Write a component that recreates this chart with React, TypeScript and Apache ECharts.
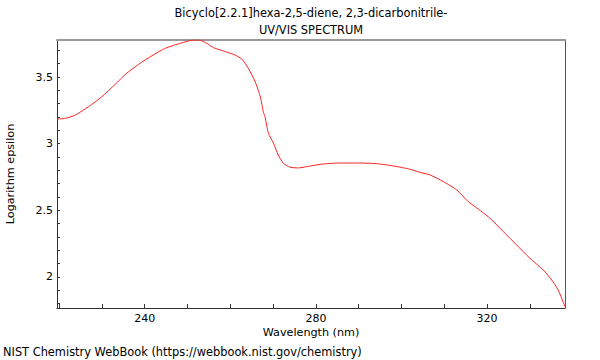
import React, { useEffect, useRef } from "react";
import * as echarts from "echarts";

const titleLines = ["Bicyclo[2.2.1]hexa-2,5-diene, 2,3-dicarbonitrile-", "UV/VIS SPECTRUM"];
const xName = "Wavelength (nm)";
const yName = "Logarithm epsilon";
const footer = "NIST Chemistry WebBook (https://webbook.nist.gov/chemistry)";

const wavelengths = [
  219.5, 221.4, 223.8, 226.9, 230.0, 233.1, 235.5, 238.6, 241.7, 244.8, 249.1, 251.4, 253.0,
  254.5, 256.1, 258.4, 260.7, 262.7, 264.2, 265.8, 267.0, 267.7, 268.1, 268.9, 270.1, 271.2,
  272.4, 274.0, 275.9, 278.7, 281.8, 285.7, 289.6, 294.2, 298.1, 302.0, 304.3, 306.7, 309.8,
  312.9, 315.6, 317.2, 320.7, 323.8, 326.9, 330.0, 333.1, 335.1, 336.6, 338.2,
];
const logEpsilon = [
  3.185, 3.19, 3.215, 3.278, 3.353, 3.446, 3.521, 3.596, 3.66, 3.716, 3.761, 3.778, 3.776,
  3.753, 3.72, 3.695, 3.671, 3.635, 3.566, 3.465, 3.353, 3.24, 3.203, 3.078, 3.003, 2.915,
  2.853, 2.823, 2.818, 2.833, 2.848, 2.855, 2.855, 2.85, 2.833, 2.808, 2.785, 2.765, 2.715,
  2.653, 2.565, 2.527, 2.44, 2.34, 2.24, 2.14, 2.053, 1.977, 1.902, 1.777,
];
const xLabels = [240, 280, 320];
const xTicks = [220, 230, 240, 250, 260, 270, 280, 290, 300, 310, 320, 330];
const yLabels = [2, 2.5, 3, 3.5];
const yTicks = [1.8, 1.9, 2, 2.1, 2.2, 2.3, 2.4, 2.5, 2.6, 2.7, 2.8, 2.9, 3, 3.1, 3.2, 3.3, 3.4, 3.5, 3.6, 3.7];

const FONT = "DejaVu Sans";
const FS = 11;
const FS_TITLE = 11.4;
const FS_NAME = 11.2;

export default function App() {
  const ref = useRef<HTMLDivElement>(null);
  useEffect(() => {
    if (!ref.current) return;
    const chart = echarts.init(ref.current, null, { renderer: "svg" });
    const data = wavelengths.map((w, i) => [w, logEpsilon[i]]);
    chart.setOption({
      animation: false,
      backgroundColor: "#fff",
      textStyle: { fontFamily: FONT },
      grid: { left: 57, right: 35, top: 40, bottom: 52, show: false },
      xAxis: [
        {
          type: "value",
          min: 219.5,
          max: 338.2,
          axisLine: { show: true, lineStyle: { color: "#333", width: 1 } },
          axisTick: { show: true, inside: true, length: 4, customValues: xTicks, lineStyle: { color: "#333" } },
          axisLabel: { show: true, customValues: xLabels, margin: 5, color: "#000", fontSize: FS, fontFamily: FONT },
          splitLine: { show: false },
        },
        {
          type: "value",
          position: "top",
          min: 219.5,
          max: 338.2,
          axisLine: { show: true, lineStyle: { color: "#999", width: 2 } },
          axisTick: { show: false },
          axisLabel: { show: false },
          splitLine: { show: false },
        },
      ],
      yAxis: [
        {
          type: "value",
          min: 1.767,
          max: 3.778,
          axisLine: { show: true, lineStyle: { color: "#333", width: 1 } },
          axisTick: { show: true, inside: true, length: 3, customValues: yTicks, lineStyle: { color: "#333" } },
          axisLabel: { show: true, customValues: yLabels, margin: 4, color: "#000", fontSize: FS, fontFamily: FONT },
          splitLine: { show: false },
        },
        {
          type: "value",
          position: "right",
          min: 1.767,
          max: 3.778,
          axisLine: { show: true, lineStyle: { color: "#555", width: 1 } },
          axisTick: { show: false },
          axisLabel: { show: false },
          splitLine: { show: false },
        },
      ],
      series: [
        {
          type: "line",
          data,
          showSymbol: false,
          smooth: 0.2,
          lineStyle: { color: "#ff2020", width: 1 },
          silent: true,
        },
      ],
      graphic: [
        { type: "text", x: 311, y: 13, style: { text: titleLines[0], fill: "#000", font: `${FS_TITLE}px '${FONT}'`, textAlign: "center", textVerticalAlign: "middle" } },
        { type: "text", x: 311, y: 30, style: { text: titleLines[1], fill: "#000", font: `${FS_TITLE}px '${FONT}'`, textAlign: "center", textVerticalAlign: "middle" } },
        { type: "text", x: 311, y: 332, style: { text: xName, fill: "#000", font: `${FS_NAME}px '${FONT}'`, textAlign: "center", textVerticalAlign: "middle" } },
        { type: "text", x: 10.5, y: 174, rotation: Math.PI / 2, style: { text: yName, fill: "#000", font: `${FS_NAME}px '${FONT}'`, textAlign: "center", textVerticalAlign: "middle" } },
        { type: "text", x: 3, y: 352, style: { text: footer, fill: "#000", font: `${FS_TITLE}px '${FONT}'`, textAlign: "left", textVerticalAlign: "middle" } },
      ],
    });
    return () => chart.dispose();
  }, []);
  return <div ref={ref} style={{ width: 600, height: 360, position: "absolute", left: 0, top: 0 }} />;
}
